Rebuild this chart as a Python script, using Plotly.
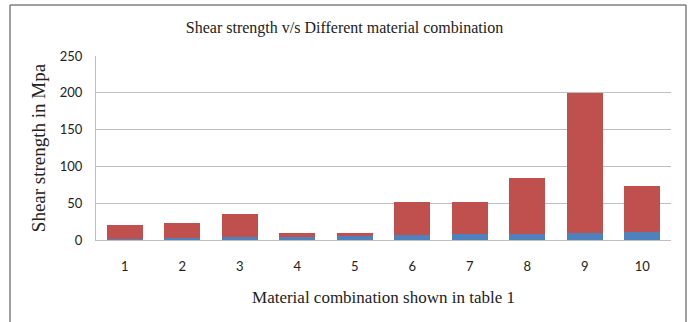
import plotly.graph_objects as go

categories = ["1", "2", "3", "4", "5", "6", "7", "8", "9", "10"]
blue_values = [1.3, 2.3, 3.6, 4.6, 5, 7, 7.5, 8.5, 10, 11]
red_values = [18.7, 20.7, 32.4, 4.9, 4.5, 44, 43.5, 75.5, 190, 62]
y_ticks = [0, 50, 100, 150, 200, 250]

W, H = 689, 322
L, R, T, B = 96, 671, 56, 240

fig = go.Figure()
fig.add_trace(go.Bar(x=categories, y=blue_values, marker=dict(color="#4F81BD", line=dict(width=0)), name="s1"))
fig.add_trace(go.Bar(x=categories, y=red_values, marker=dict(color="#C0504D", line=dict(width=0)), name="s2"))

def px(x):
    return (x - L) / (R - L)

def py(y):
    return (B - y) / (B - T)

fig.update_layout(
    width=W, height=H,
    barmode="stack", bargap=0.37,
    showlegend=False,
    plot_bgcolor="white", paper_bgcolor="white",
    margin=dict(l=L, r=W - R, t=T, b=H - B, pad=0, autoexpand=False),
    title=dict(text="Shear strength v/s Different material combination",
               x=0.5, xanchor="center", y=1 - 27 / H, yanchor="middle",
               font=dict(family="Liberation Serif", size=16, color="#222")),
    xaxis=dict(showgrid=False, showline=True, linecolor="#BFBFBF", linewidth=1, automargin=False,
               ticks="", ticklabelstandoff=14, tickfont=dict(family="Lato", size=13, color="#222"),
               title=dict(text="Material combination shown in table 1", standoff=18,
                          font=dict(family="Liberation Serif", size=17, color="#222"))),
    yaxis=dict(range=[0, 250], tickvals=y_ticks, showgrid=True, gridcolor="#BFBFBF", gridwidth=1,
               showline=True, linecolor="#BFBFBF", linewidth=1, zeroline=False, automargin=False,
               ticks="", ticklabelstandoff=10,
               tickfont=dict(family="Lato", size=13, color="#222"),
               title=dict(text="Shear strength in Mpa", standoff=9,
                          font=dict(family="Liberation Serif", size=19, color="#222"))),
    shapes=[
        dict(type="line", xref="paper", yref="paper", x0=px(10), x1=px(10), y0=py(330), y1=py(5),
             line=dict(color="#7F7F7F", width=1.5)),
        dict(type="line", xref="paper", yref="paper", x0=px(686), x1=px(686), y0=py(330), y1=py(5),
             line=dict(color="#7F7F7F", width=1.5)),
        dict(type="line", xref="paper", yref="paper", x0=px(10), x1=px(686), y0=py(5), y1=py(5),
             line=dict(color="#7F7F7F", width=1.5)),
    ],
)

fig.write_html("out.html", config={"displayModeBar": False},
               post_script="document.body.style.margin='0';")
